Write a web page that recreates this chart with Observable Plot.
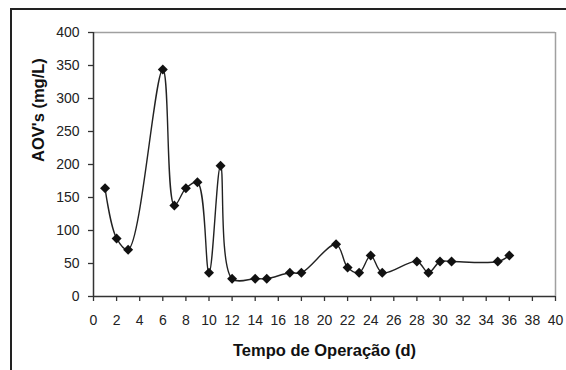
<!DOCTYPE html>
<html>
<head>
<meta charset="utf-8">
<script src="https://cdn.jsdelivr.net/npm/d3@7"></script>
<script src="https://cdn.jsdelivr.net/npm/@observablehq/plot@0.6"></script>
<style>
  html, body { margin: 0; padding: 0; background: #fff; }
  #wrap { position: relative; width: 566px; height: 370px; overflow: hidden; background: #fff; }
  #frame { position: absolute; left: 10px; top: 8px; width: 700px; height: 500px; border: 2px solid #222; }
  #chart { position: absolute; left: 0; top: 0; }
</style>
</head>
<body>
<div id="wrap"><div id="frame"></div><div id="chart"></div></div>
<script>
const days = [1, 2, 3, 6, 7, 8, 9, 10, 11, 12, 14, 15, 17, 18, 21, 22, 23, 24, 25, 28, 29, 30, 31, 35, 36];
const aov  = [164, 88, 71, 344, 138, 164, 173, 36, 198, 27, 27, 27, 36, 36, 79, 44, 36, 62, 36, 53, 36, 53, 53, 53, 62];
const xTicks = d3.range(0, 41, 2);
const yTicks = d3.range(0, 401, 50);
const xTitle = "Tempo de Operação (d)";
const yTitle = "AOV's (mg/L)";

const data = days.map((d, i) => ({day: d, value: aov[i]}));
const font = "'Liberation Sans', Arial, sans-serif";

const chart = Plot.plot({
  width: 566,
  height: 370,
  marginLeft: 93,
  marginRight: 11,
  marginTop: 32,
  marginBottom: 74,
  style: {fontFamily: font, fontSize: "14px", color: "#222", background: "transparent"},
  x: {domain: [0, 40], ticks: xTicks, label: null},
  y: {domain: [0, 400], ticks: yTicks, label: null},
  marks: [
    Plot.ruleY([400], {stroke: "#a0a0a0", strokeWidth: 1.5}),
    Plot.ruleX([40], {stroke: "#a0a0a0", strokeWidth: 1.5}),
    Plot.axisX({ticks: xTicks, tickSize: 5, tickPadding: 14, label: null, stroke: "#333", strokeWidth: 1.3}),
    Plot.axisY({ticks: yTicks, tickSize: 5, tickPadding: 9, label: null, stroke: "#333", strokeWidth: 1.3}),
    Plot.ruleY([0], {stroke: "#333", strokeWidth: 1.5}),
    Plot.ruleX([0], {stroke: "#333", strokeWidth: 1.5}),
    Plot.line(data, {x: "day", y: "value", curve: "catmull-rom", stroke: "#222", strokeWidth: 1.4}),
    Plot.dot(data, {x: "day", y: "value", symbol: "diamond2", r: 4.5, fill: "#111", stroke: "none"}),
    Plot.text([xTitle], {frameAnchor: "bottom", dy: 54, text: d => d, fontSize: 16.5, fontWeight: "bold", fill: "#111", lineAnchor: "middle"}),
    Plot.text([yTitle], {frameAnchor: "left", dx: -55, dy: -2.5, rotate: -90, text: d => d, fontSize: 16.5, fontWeight: "bold", fill: "#111", lineAnchor: "middle"})
  ]
});
document.getElementById("chart").appendChild(chart);
</script>
</body>
</html>
